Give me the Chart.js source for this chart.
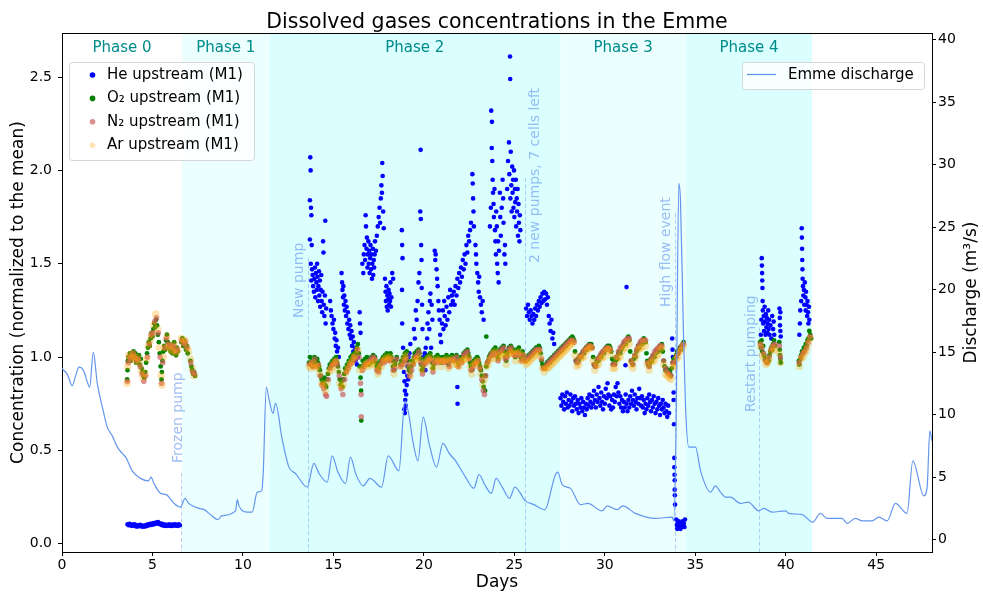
<!DOCTYPE html>
<html>
<head>
<meta charset="utf-8">
<script src="https://cdn.jsdelivr.net/npm/chart.js@4.4.0/dist/chart.umd.min.js"></script>
<style>
  html, body { margin: 0; padding: 0; background: #fff; }
  canvas { display: block; }
</style>
</head>
<body>
<canvas id="gasChart" width="983" height="594"></canvas>
<script>
// ---- data (days, value) ----
const heUpstream = [
  [3.62,0.104],[3.68,0.099],[3.73,0.107],[3.78,0.101],[3.84,0.096],[3.89,0.103],[3.95,0.098],[4.0,0.105],[4.05,0.094],[4.1,0.1],
  [4.16,0.092],[4.21,0.099],[4.27,0.095],[4.32,0.102],[4.38,0.093],[4.43,0.098],[4.49,0.091],[4.54,0.097],[4.6,0.093],[4.65,0.1],
  [4.71,0.096],[4.76,0.104],[4.82,0.099],[4.87,0.107],[4.93,0.101],[4.98,0.109],[5.04,0.103],[5.09,0.111],[5.15,0.106],[5.2,0.114],
  [5.26,0.108],[5.31,0.117],[5.36,0.11],[5.42,0.104],[5.47,0.109],[5.53,0.099],[5.58,0.106],[5.64,0.097],[5.69,0.103],[5.75,0.095],
  [5.8,0.101],[5.86,0.097],[5.91,0.104],[5.97,0.096],[6.02,0.102],[6.08,0.095],[6.13,0.103],[6.19,0.098],[6.24,0.105],[6.3,0.097],
  [6.35,0.102],[6.41,0.096],[6.46,0.104],[6.51,0.099],
  [13.72,2.07],[13.74,2.0],[13.7,1.84],[13.76,1.8],[13.78,1.76],[13.7,1.63],[13.8,1.6],[13.75,1.5],[13.82,1.47],[13.85,1.44],
  [13.78,1.41],[13.88,1.38],[13.92,1.35],[13.95,1.42],[13.98,1.48],[14.0,1.32],
  [14.03,1.45],[14.06,1.4],[14.08,1.36],[14.1,1.5],[14.12,1.43],[14.15,1.3],[14.17,1.38],[14.2,1.46],[14.22,1.33],[14.25,1.41],
  [14.27,1.27],[14.3,1.36],[14.33,1.44],[14.35,1.3],[14.38,1.24],[14.4,1.35],[14.43,1.62],[14.45,1.56],[14.47,1.28],[14.5,1.22],
  [14.53,1.33],[14.55,1.73],[14.57,1.18],[14.6,1.26],
  [14.82,1.3],[14.86,1.25],[14.9,1.22],[14.95,1.18],[15.0,1.15],[15.03,1.2],[15.07,1.1],[15.1,1.13],[15.13,1.06],[15.17,1.09],
  [15.2,1.03],[15.25,1.05],[15.3,1.0],
  [15.45,1.45],[15.48,1.4],[15.5,1.36],[15.53,1.32],[15.55,1.38],[15.58,1.28],[15.6,1.33],[15.63,1.25],[15.67,1.3],[15.7,1.22],
  [15.73,1.27],[15.77,1.18],[15.8,1.24],[15.83,1.15],[15.87,1.2],[15.9,1.12],[15.93,1.17],[15.97,1.1],[16.0,1.14],[16.03,1.06],
  [16.07,1.11],[16.1,1.03],[16.13,1.08],[16.17,1.0],[16.2,1.05],[16.23,0.98],[16.27,1.02],[16.3,0.96],[16.35,1.0],
  [16.45,1.24],[16.47,1.18],[16.5,1.13],
  [16.6,1.5],[16.65,1.45],[16.68,1.55],[16.72,1.6],[16.75,1.52],[16.78,1.76],[16.8,1.7],[16.83,1.58],[16.85,1.64],[16.88,1.48],
  [16.9,1.55],[16.93,1.62],[16.95,1.5],[16.98,1.57],[17.0,1.45],[17.03,1.53],[17.05,1.6],[17.08,1.47],[17.1,1.55],[17.13,1.42],
  [17.15,1.5],[17.18,1.58],[17.2,1.44],[17.23,1.52],[17.25,1.48],[17.28,1.55],[17.3,1.62],[17.35,1.57],[17.4,1.65],
  [17.45,1.7],[17.5,1.75],[17.55,1.8],[17.58,1.72],[17.62,1.85],[17.65,1.92],[17.68,1.88],[17.7,2.04],[17.72,1.97],[17.75,1.78],[17.78,1.69],
  [17.85,1.42],[17.88,1.35],[17.9,1.3],[17.93,1.38],[17.95,1.27],[17.98,1.33],[18.0,1.25],[18.03,1.31],[18.05,1.36],[18.08,1.28],
  [18.1,1.34],[18.13,1.3],[18.15,1.4],[18.18,1.27],[18.2,1.32],[18.25,1.45],[18.3,1.42],
  [18.78,1.68],[18.8,1.6],[18.82,1.53],[18.79,1.36],[18.8,1.18],[18.85,1.05],[18.88,0.98],[18.9,0.92],[18.93,0.87],[18.95,0.82],
  [18.97,0.77],[19.0,0.74],[18.92,0.72],[18.95,0.7],[19.02,0.8],[19.05,0.85],[19.08,0.9],[19.1,0.95],[19.13,0.88],[19.15,1.0],
  [19.18,0.93],[19.2,1.02],[19.25,1.07],
  [19.45,1.15],[19.5,1.1],[19.55,1.25],[19.6,1.2],[19.65,1.3],[19.7,1.4],[19.75,1.45],[19.8,1.78],[19.82,2.11],[19.83,1.74],
  [19.85,1.6],[19.87,1.52],[19.88,1.37],[19.9,1.28],[19.92,1.15],[19.95,1.0],[19.9,0.93],[19.97,0.96],
  [20.0,0.97],[20.05,1.02],[20.08,0.93],[20.1,1.05],[20.15,0.98],[20.18,1.1],[20.2,1.18],[20.25,1.24],[20.3,1.15],[20.33,1.3],
  [20.36,1.34],[20.4,1.05],[20.43,1.28],[20.47,1.2],
  [20.6,1.57],[20.63,1.52],[20.65,1.55],[20.7,1.47],[20.73,1.42],[20.76,1.38],[20.8,1.3],[20.83,1.25],[20.87,1.2],[20.9,1.12],[20.95,1.08],
  [21.0,1.18],[21.05,1.25],[21.08,1.15],[21.12,1.3],[21.15,1.22],[21.2,1.17],[21.25,1.27],[21.3,1.2],[21.35,1.32],[21.4,1.24],
  [21.45,1.36],[21.5,1.28],[21.55,1.33],[21.85,0.84],[21.86,0.75],
  [21.6,1.3],[21.65,1.35],[21.7,1.28],[21.75,1.38],[21.8,1.33],[21.85,1.42],[21.9,1.37],[21.95,1.45],[22.0,1.4],[22.05,1.48],
  [22.1,1.43],[22.15,1.52],[22.2,1.47],[22.25,1.55],[22.3,1.5],[22.35,1.6],[22.4,1.56],[22.45,1.65],[22.5,1.62],[22.55,1.68],[22.6,1.72],
  [22.68,1.98],[22.7,1.93],[22.72,1.85],[22.74,1.78],[22.76,1.7],
  [22.85,1.6],[22.88,1.55],[22.9,1.5],[22.95,1.45],[23.0,1.4],[23.03,1.35],[23.06,1.43],[23.1,1.32],[23.15,1.28],[23.2,1.24],[23.25,1.3],[23.3,1.2],
  [23.65,1.7],[23.7,1.8],[23.72,2.32],[23.76,2.26],[23.75,2.12],[23.78,2.05],[23.8,1.95],[23.82,1.88],[23.85,1.82],[23.87,1.75],
  [23.9,1.9],[23.93,1.68],[23.95,1.62],[23.98,1.55],[24.0,1.78],[24.03,1.7],[24.05,1.5],[24.08,1.45],[24.1,1.62],[24.13,1.4],
  [24.15,1.57],[24.2,1.88],[24.22,1.75],[24.25,1.65],[24.3,1.8],[24.35,1.95],[24.38,1.85],[24.4,1.72],[24.45,1.55],[24.48,1.6],[24.5,1.5],
  [24.6,1.9],[24.65,2.05],[24.7,2.15],[24.72,1.98],[24.76,2.61],[24.77,2.49],[24.78,1.85],[24.8,2.1],[24.83,1.92],[24.85,1.78],
  [24.88,2.02],[24.9,1.88],[24.93,1.95],[24.95,1.8],[24.98,2.0],[25.0,1.75],[25.03,1.9],[25.05,1.83],[25.08,1.95],[25.1,1.7],
  [25.13,1.85],[25.15,1.78],[25.18,1.9],[25.2,1.65],[25.23,1.82],[25.25,1.72],[25.28,1.62],[25.3,1.76],[25.33,1.68],
  [25.65,1.26],[25.7,1.22],[25.75,1.28],[25.8,1.24],[25.85,1.2],[25.9,1.25],[25.95,1.22],[26.0,1.18],[26.05,1.23],[26.1,1.2],
  [26.15,1.26],[26.2,1.22],[26.25,1.28],[26.3,1.25],[26.35,1.3],[26.4,1.27],[26.45,1.32],[26.5,1.29],[26.55,1.34],[26.6,1.3],
  [26.65,1.35],[26.7,1.31],[26.75,1.34],[26.8,1.28],[26.85,1.32],[26.9,1.22],[26.95,1.18],[27.0,1.14],[27.05,1.2],[27.1,1.1],
  [27.15,1.13],[27.2,1.07],
  [27.55,0.78],[27.6,0.74],[27.65,0.8],[27.7,0.76],[27.75,0.72],[27.8,0.79],[27.85,0.75],[27.9,0.81],[27.95,0.73],[28.0,0.77],
  [28.05,0.74],[28.1,0.8],[28.15,0.76],[28.2,0.71],[28.25,0.78],[28.3,0.74],[28.35,0.79],[28.4,0.75],[28.45,0.72],[28.5,0.77],
  [28.55,0.7],[28.6,0.75],[28.65,0.73],[28.7,0.78],[28.75,0.71],[28.8,0.76],[28.85,0.73],[28.9,0.69],[28.95,0.75],[29.0,0.72],
  [29.05,0.78],[29.1,0.74],[29.15,0.8],[29.2,0.76],[29.25,0.73],[29.3,0.79],[29.35,0.75],[29.4,0.82],[29.45,0.77],[29.5,0.73],
  [29.55,0.8],[29.6,0.76],[29.65,0.84],[29.7,0.78],[29.75,0.74],[29.8,0.81],[29.85,0.76],[29.9,0.72],[29.95,0.79],[30.0,0.75],
  [30.05,0.83],[30.1,0.78],[30.15,0.86],[30.2,0.8],[30.25,0.74],[30.3,0.79],[30.35,0.72],[30.4,0.77],[30.45,0.73],[30.5,0.8],
  [30.55,0.76],[30.6,0.84],[30.65,0.79],[30.7,0.86],[30.75,0.81],[30.8,0.75],[30.85,0.79],[30.9,0.73],[30.95,0.77],[31.0,0.71],
  [31.05,0.76],[31.1,0.73],[31.15,0.8],[31.2,0.75],[31.25,0.71],[31.3,0.77],[31.35,0.73],[31.4,0.79],[31.45,0.75],[31.5,0.82],
  [31.55,0.77],[31.6,0.74],[31.65,0.8],[31.7,0.76],[31.75,0.72],[31.8,0.78],[31.85,0.75],[31.9,0.83],[31.95,0.78],[32.0,0.74],
  [32.05,0.79],[32.1,0.73],[32.15,0.77],[32.2,0.7],[32.25,0.75],[32.3,0.72],[32.35,0.78],[32.4,0.74],[32.45,0.8],[32.5,0.76],
  [32.55,0.71],[32.6,0.77],[32.65,0.73],[32.7,0.79],[32.75,0.75],[32.8,0.7],[32.85,0.76],[32.9,0.72],[32.95,0.78],[33.0,0.74],
  [33.05,0.69],[33.1,0.75],[33.15,0.72],[33.2,0.77],[33.25,0.73],[33.3,0.7],[33.35,0.75],[33.4,0.71],[33.45,0.68],[33.5,0.74],[33.55,0.7],
  [31.14,0.956],[31.2,1.375],
  [33.72,1.1],[33.74,1.04],[33.76,1.0],[33.8,0.81],[33.8,0.77],[33.82,0.64],[33.84,0.46],[33.84,0.41],[33.85,0.37],[33.86,0.34],
  [33.86,0.29],[33.87,0.26],[33.88,0.21],
  [33.95,0.13],[33.98,0.1],[34.0,0.08],[34.03,0.11],[34.06,0.09],[34.09,0.12],[34.12,0.09],[34.15,0.1],[34.18,0.08],[34.21,0.11],
  [34.24,0.1],[34.27,0.09],[34.3,0.12],[34.33,0.1],[34.36,0.11],[34.4,0.09],[34.43,0.13],
  [38.62,1.12],[38.65,1.2],[38.67,1.53],[38.68,1.49],[38.69,1.45],[38.7,1.41],[38.71,1.37],[38.72,1.3],[38.73,1.25],[38.75,1.18],
  [38.78,1.22],[38.8,1.14],[38.83,1.27],[38.85,1.19],[38.88,1.12],[38.9,1.23],[38.93,1.16],[38.95,1.21],[38.98,1.13],[39.0,1.18],
  [39.03,1.25],[39.05,1.15],[39.08,1.2],[39.1,1.12],[39.15,1.17],[39.2,1.1],[39.25,1.22],[39.3,1.15],[39.33,1.19],[39.36,1.12],
  [39.65,1.26],[39.67,1.21],[39.68,1.17],[39.7,1.14],[39.72,1.11],[39.7,1.24],
  [40.75,1.12],[40.78,1.18],[40.8,1.25],[40.85,1.3],[40.88,1.69],[40.89,1.64],[40.9,1.58],[40.91,1.52],[40.92,1.47],[40.93,1.42],
  [40.95,1.38],[40.97,1.33],[41.0,1.36],[41.02,1.28],[41.05,1.4],[41.08,1.32],[41.1,1.25],[41.12,1.35],[41.15,1.28],[41.18,1.22],
  [41.2,1.3],[41.23,1.24],[41.25,1.18],[41.28,1.27],[41.3,1.2]
];

const o2Upstream = [
  [3.6,0.88],[3.62,0.93],[3.64,0.98],[3.67,1.0],[3.7,0.99],[3.75,1.02],[3.8,0.98],[3.85,1.01],[3.9,1.0],[3.95,1.03],
  [4.0,0.99],[4.05,1.02],[4.1,0.97],[4.15,1.0],[4.2,0.98],[4.25,1.01],[4.3,0.96],[4.35,0.99],[4.4,0.94],[4.45,0.92],
  [4.5,0.9],[4.55,0.89],[4.6,0.92],[4.65,0.97],[4.7,1.02],[4.75,1.05],[4.8,1.08],[4.85,1.06],[4.9,1.1],[4.95,1.13],
  [5.0,1.11],[5.05,1.15],[5.1,1.18],[5.15,1.16],[5.2,1.2],[5.25,1.17],[5.3,1.12],[5.35,1.08],[5.4,1.02],[5.45,0.95],
  [5.5,0.88],[5.52,0.92],[5.55,0.98],[5.6,1.03],[5.65,1.06],[5.7,1.04],[5.75,1.09],[5.8,1.12],[5.85,1.08],[5.9,1.05],
  [5.95,1.07],[6.0,1.03],[6.05,1.06],[6.1,1.02],[6.15,1.05],[6.2,1.08],[6.25,1.04],[6.3,1.01],[6.35,1.05],[6.4,1.03],
  [6.6,1.08],[6.65,1.1],[6.7,1.06],[6.75,1.09],[6.8,1.07],[6.85,1.04],[6.9,1.06],[6.95,1.02],[7.1,0.98],[7.15,0.95],
  [7.2,0.93],[7.25,0.91],[7.3,0.92],[7.35,0.9],
  [13.65,0.97],[13.7,1.0],[13.75,0.96],[13.8,0.98],[13.85,0.95],[13.9,0.97],[13.95,1.0],[14.0,0.98],[14.05,0.96],[14.1,0.99],
  [14.15,0.97],[14.2,0.95],[14.25,0.93],[14.3,0.9],[14.35,0.88],[14.4,0.86],[14.45,0.87],[14.5,0.89],[14.55,0.85],[14.6,0.84],
  [14.65,0.88],[14.7,0.91],[14.75,0.94],[14.8,0.96],[14.85,0.95],[14.9,0.97],[14.95,0.98],[15.0,0.97],[15.05,0.99],[15.1,0.98],
  [15.15,1.0],[15.2,0.97],[15.25,0.95],[15.3,0.92],[15.35,0.88],[15.4,0.85],[15.45,0.87],[15.5,0.84],[15.55,0.88],[15.6,0.91],
  [15.65,0.94],[15.7,0.93],[15.75,0.96],[15.8,0.95],[15.85,0.98],[15.9,0.97],[15.95,1.0],[16.0,0.98],[16.05,1.01],[16.1,0.99],
  [16.15,1.02],[16.2,1.0],[16.25,1.03],[16.3,1.05],[16.35,1.07],[16.4,1.02],[16.45,0.95],[16.5,0.89],[16.53,0.82],[16.54,0.66],
  [16.58,0.95],[16.62,0.98],[16.7,0.96],[16.75,0.99],[16.8,0.97],[16.85,1.0],[16.9,0.98],[16.95,0.96],[17.0,0.99],[17.05,0.97],
  [17.1,1.0],[17.15,0.98],[17.2,1.01],[17.25,0.99],[17.3,1.0],[17.35,0.97],[17.4,0.95],[17.45,0.93],[17.5,0.94],[17.55,0.96],
  [17.6,0.98],[17.65,0.97],[17.7,0.99],[17.75,1.0],[17.8,0.98],[17.85,1.01],[17.9,0.99],[17.95,1.02],[18.0,1.0],[18.05,1.01],
  [18.1,0.99],[18.15,1.02],[18.2,1.0],[18.25,0.98],[18.3,0.95],[18.35,0.93],[18.4,0.96],[18.45,0.98],[18.5,1.0],
  [18.7,0.96],[18.75,0.98],[18.8,0.97],[18.85,1.0],[18.9,0.99],[18.95,1.02],[19.0,1.0],[19.05,1.03],[19.1,0.98],[19.15,0.95],
  [19.2,0.93],[19.25,0.92],[19.3,0.95],[19.35,0.98],[19.4,0.97],[19.45,1.0],[19.5,1.02],[19.55,1.0],[19.6,1.03],[19.65,1.01],
  [19.7,1.04],[19.75,1.02],[19.8,0.99],[19.85,0.96],[19.9,0.93],[19.95,0.95],[20.0,0.97],[20.05,0.99],[20.1,0.98],[20.15,1.0],
  [20.2,0.99],[20.25,1.01],[20.3,1.0],[20.35,1.02],[20.4,1.0],[20.45,0.97],[20.5,0.94],[20.55,0.96],[20.6,0.98],[20.65,1.0],
  [20.7,0.99],[20.75,1.01],[20.8,0.98],[20.85,1.0],[20.9,0.99],[20.95,0.97],[21.0,0.99],[21.05,1.0],[21.1,0.98],[21.15,1.0],
  [21.2,0.99],[21.25,1.01],[21.3,0.98],[21.35,0.96],[21.4,0.98],[21.45,1.0],[21.5,0.99],[21.55,1.01],[21.6,1.0],[21.65,0.98],
  [21.7,1.0],[21.75,0.99],[21.8,1.01],[21.85,0.98],[21.9,0.96],[21.95,0.97],[22.0,0.99],[22.05,1.0],[22.1,0.98],[22.15,1.0],
  [22.2,1.02],[22.25,1.01],[22.3,1.03],[22.35,1.01],[22.4,1.04],[22.45,1.02],[22.5,1.0],[22.55,0.97],[22.6,0.95],[22.65,0.93],
  [22.7,0.96],[22.75,0.98],[22.8,0.97],[22.85,0.99],[22.9,0.98],[22.95,1.0],[23.0,0.99],[23.05,0.97],[23.1,0.95],[23.15,0.93],
  [23.2,0.9],[23.25,0.87],[23.3,0.84],[23.38,0.82],[23.45,1.11],[23.4,0.9],[23.45,0.95],[23.5,0.97],[23.55,0.98],[23.6,1.0],
  [23.65,1.01],[23.7,1.02],[23.75,1.01],[23.8,1.03],[23.85,1.04],[23.9,1.02],[23.95,1.05],[24.0,1.03],[24.05,1.01],[24.1,0.99],
  [24.15,1.02],[24.2,1.04],[24.25,1.03],[24.3,1.05],[24.35,1.04],[24.4,1.06],[24.45,1.03],[24.5,1.0],[24.55,0.98],[24.6,1.01],
  [24.65,1.03],[24.7,1.05],[24.75,1.04],[24.8,1.06],[24.85,1.05],[24.9,1.03],[24.95,1.04],[25.0,1.02],[25.05,1.0],[25.1,1.02],
  [25.15,1.04],[25.2,1.03],[25.25,1.05],[25.3,1.02],[25.35,1.0],[25.4,0.99],
  [25.45,1.03],[25.5,1.01],[25.55,1.0],[25.6,0.99],[25.65,0.98],[25.7,1.0],[25.75,0.99],[25.8,1.01],[25.85,1.0],[25.9,1.02],
  [25.95,1.01],[26.0,1.03],[26.05,1.02],[26.1,1.04],[26.15,1.03],[26.2,1.05],[26.25,1.04],[26.3,1.05],[26.35,1.06],[26.4,1.05],
  [26.45,1.02],[26.5,0.98],[26.55,0.96],[26.6,0.95],[26.65,0.94],[26.7,0.95],[26.75,0.96],[26.8,0.97],[26.85,0.96],[26.9,0.98],
  [26.95,0.97],[27.0,0.99],[27.05,0.98],[27.1,1.0],[27.15,0.99],[27.2,1.01],[27.25,1.0],[27.3,1.02],[27.35,1.01],[27.4,1.03],
  [27.45,1.02],[27.5,1.04],[27.55,1.03],[27.6,1.05],[27.65,1.04],[27.7,1.06],[27.75,1.05],[27.8,1.07],[27.85,1.06],[27.9,1.08],
  [27.95,1.07],[28.0,1.09],[28.05,1.08],[28.1,1.1],[28.15,1.09],[28.2,1.11],[28.25,1.1],[28.3,1.09],[28.35,1.03],[28.4,0.98],
  [28.45,0.97],[28.5,0.99],[28.55,0.98],[28.6,1.0],[28.65,1.01],[28.7,1.0],[28.75,1.02],[28.8,1.03],[28.85,1.02],[28.9,1.04],
  [28.95,1.05],[29.0,1.04],[29.05,1.06],[29.1,1.05],[29.15,1.07],[29.2,1.06],[29.25,1.07],[29.3,1.05],[29.35,1.0],[29.4,0.96],
  [29.45,0.95],[29.5,0.96],[29.55,0.98],[29.6,0.99],[29.65,0.98],[29.7,1.0],[29.75,1.01],[29.8,1.0],[29.85,1.02],[29.9,1.03],
  [29.95,1.02],[30.0,1.04],[30.05,1.05],[30.1,1.04],[30.15,1.06],[30.2,1.05],[30.25,1.06],[30.3,1.05],[30.35,1.03],[30.4,0.99],
  [30.45,0.96],[30.5,0.97],[30.55,0.96],[30.6,0.98],[30.65,1.0],[30.7,0.99],[30.75,1.02],[30.8,1.03],[30.85,1.02],[30.9,1.04],
  [30.95,1.05],[31.0,1.06],[31.05,1.07],[31.1,1.08],[31.15,1.07],[31.2,1.09],[31.25,1.1],[31.3,1.11],[31.35,1.09],[31.4,1.03],
  [31.45,0.98],[31.5,0.97],[31.55,0.96],[31.6,0.99],[31.65,1.01],[31.7,1.0],[31.75,1.03],[31.8,1.04],[31.85,1.06],[31.9,1.05],
  [31.95,1.07],[32.0,1.08],[32.05,1.07],[32.1,1.09],[32.15,1.1],[32.2,1.09],[32.25,1.08],[32.3,1.02],[32.35,0.98],[32.4,0.96],
  [32.45,0.95],[32.5,0.97],[32.55,0.99],[32.6,0.98],[32.65,1.0],[32.7,1.01],[32.75,1.0],[32.8,1.02],[32.85,1.03],[32.9,1.04],
  [32.95,1.03],[33.0,1.05],[33.05,1.06],[33.1,1.05],[33.15,1.07],[33.2,1.03],[33.25,0.98],[33.3,0.95],[33.35,0.93],[33.4,0.94],
  [33.45,0.92],[33.5,0.93],[33.55,0.91],[33.6,0.92],[33.65,0.9],[33.7,0.94],[33.75,0.97],[33.8,0.99],[33.85,0.97],[33.9,1.0],
  [33.95,1.01],[34.0,1.03],[34.05,1.02],[34.1,1.04],[34.15,1.05],[34.2,1.04],[34.25,1.06],[34.3,1.07],[34.35,1.08],
  [38.58,1.08],[38.62,1.05],[38.66,1.09],[38.7,1.03],[38.75,1.06],[38.8,1.01],[38.85,0.99],[38.9,0.98],[38.95,0.97],[39.0,0.99],
  [39.05,0.98],[39.1,1.01],[39.15,1.03],[39.2,1.05],[39.25,1.04],[39.3,1.07],[39.35,1.09],[39.4,1.06],
  [39.64,1.08],[39.66,1.04],[39.68,1.01],[39.7,0.99],[39.72,0.97],
  [40.72,0.98],[40.75,0.96],[40.8,0.99],[40.85,1.01],[40.9,1.03],[40.95,1.02],[41.0,1.05],[41.05,1.04],[41.1,1.07],[41.15,1.06],
  [41.2,1.09],[41.25,1.1],[41.3,1.14],[41.35,1.12],[41.4,1.1]
];

const n2Upstream = [
  [3.61,0.87],[3.66,0.97],[3.72,1.0],[3.82,0.99],[3.92,1.02],[4.02,1.0],[4.12,0.98],[4.22,0.99],[4.32,0.95],[4.42,0.91],
  [4.52,0.87],[4.62,0.9],[4.72,1.0],[4.82,1.07],[4.92,1.12],[5.02,1.13],[5.12,1.19],[5.22,1.21],[5.32,1.13],[5.42,1.0],
  [5.5,0.86],[5.57,0.97],[5.67,1.05],[5.77,1.1],[5.87,1.07],[5.97,1.06],[6.07,1.05],[6.17,1.06],[6.27,1.03],[6.37,1.04],
  [6.62,1.09],[6.72,1.07],[6.82,1.08],[6.92,1.05],[7.12,0.97],[7.22,0.92],[7.32,0.91],
  [13.67,0.96],[13.77,0.97],[13.87,0.95],[13.97,0.99],[14.07,0.95],[14.17,0.96],[14.27,0.9],[14.37,0.85],[14.47,0.83],[14.57,0.8],
  [14.62,0.79],[14.72,0.88],[14.82,0.94],[14.92,0.96],[15.02,0.96],[15.12,0.98],[15.22,0.96],[15.32,0.9],[15.42,0.83],[15.52,0.8],
  [15.62,0.88],[15.72,0.92],[15.82,0.94],[15.92,0.96],[16.02,0.97],[16.12,1.0],[16.22,0.99],[16.32,1.04],[16.42,1.0],[16.5,0.86],
  [16.53,0.8],[16.54,0.68],[16.6,0.93],[16.7,0.95],[16.8,0.96],[16.9,0.97],[17.0,0.98],[17.1,0.99],[17.2,1.0],[17.3,0.99],
  [17.4,0.93],[17.5,0.92],[17.6,0.96],[17.7,0.98],[17.8,0.97],[17.9,0.98],[18.0,0.99],[18.1,0.98],[18.2,0.99],[18.3,0.93],
  [18.4,0.94],[18.5,0.99],[18.72,0.95],[18.82,0.96],[18.92,0.98],[19.02,0.99],[19.12,0.96],[19.22,0.9],[19.32,0.93],[19.42,0.96],
  [19.52,1.0],[19.62,1.01],[19.72,1.03],[19.82,0.97],[19.92,0.91],[20.02,0.96],[20.12,0.97],[20.22,0.98],[20.32,0.99],[20.42,0.98],
  [20.5,0.92],[20.6,0.97],[20.7,0.98],[20.8,0.97],[20.9,0.98],[21.0,0.98],[21.1,0.97],[21.2,0.98],[21.3,0.97],[21.4,0.95],
  [21.5,0.98],[21.6,0.99],[21.7,0.98],[21.8,1.0],[21.9,0.95],[22.0,0.98],[22.1,0.97],[22.2,1.01],[22.3,1.02],[22.4,1.03],
  [22.5,0.99],[22.6,0.93],[22.7,0.94],[22.8,0.96],[22.9,0.97],[23.0,0.98],[23.1,0.94],[23.2,0.88],[23.28,0.82],[23.35,0.8],
  [23.42,0.9],[23.5,0.97],[23.6,0.99],[23.7,1.01],[23.8,1.02],[23.9,1.01],[24.0,1.02],[24.1,0.98],[24.2,1.03],[24.3,1.04],
  [24.4,1.05],[24.5,0.99],[24.6,1.0],[24.7,1.04],[24.8,1.05],[24.9,1.02],[25.0,1.01],[25.1,1.01],[25.2,1.02],[25.3,1.01],[25.4,0.98],
  [25.5,1.01],[25.6,0.98],[25.7,0.99],[25.8,1.0],[25.9,1.01],[26.0,1.02],[26.1,1.03],[26.2,1.04],[26.3,1.04],[26.4,1.04],
  [26.5,0.99],[26.6,0.94],[26.7,0.94],[26.8,0.96],[26.9,0.97],[27.0,0.98],[27.1,0.99],[27.2,1.0],[27.3,1.01],[27.4,1.02],
  [27.5,1.03],[27.6,1.04],[27.7,1.05],[27.8,1.06],[27.9,1.07],[28.0,1.08],[28.1,1.09],[28.2,1.09],[28.3,1.08],[28.4,0.98],
  [28.5,0.97],[28.6,1.0],[28.7,1.01],[28.8,1.03],[28.9,1.04],[29.0,1.05],[29.1,1.06],[29.2,1.06],[29.3,1.05],[29.4,0.96],
  [29.5,0.95],[29.6,0.99],[29.7,1.0],[29.8,1.02],[29.9,1.03],[30.0,1.04],[30.1,1.05],[30.2,1.05],[30.3,1.04],[30.45,0.96],
  [30.55,0.96],[30.65,1.0],[30.75,1.03],[30.85,1.05],[30.95,1.06],[31.05,1.08],[31.15,1.09],[31.25,1.1],[31.35,1.1],[31.45,0.98],
  [31.55,0.96],[31.65,1.01],[31.75,1.04],[31.85,1.06],[31.95,1.08],[32.05,1.09],[32.15,1.09],[32.25,1.09],[32.35,0.97],[32.45,0.95],
  [32.55,0.99],[32.65,1.01],[32.75,1.03],[32.85,1.04],[32.95,1.05],[33.05,1.06],[33.15,1.06],[33.25,0.98],[33.35,0.94],[33.45,0.92],
  [33.55,0.91],[33.65,0.9],[33.75,0.97],[33.85,0.97],[33.95,1.0],[34.05,1.02],[34.15,1.04],[34.25,1.06],[34.35,1.07],
  [38.6,1.07],[38.68,1.05],[38.78,1.02],[38.88,0.98],[38.98,0.97],[39.08,1.0],[39.18,1.04],[39.28,1.06],[39.38,1.07],
  [39.65,1.06],[39.7,1.0],[40.74,0.97],[40.84,1.0],[40.94,1.02],[41.04,1.03],[41.14,1.05],[41.24,1.08],[41.34,1.11]
];

const arUpstream = [
  [3.6,0.86],[3.63,0.95],[3.7,1.01],[3.78,0.99],[3.88,1.02],[3.98,1.0],[4.08,0.98],[4.18,1.0],[4.28,0.97],[4.38,0.93],
  [4.48,0.89],[4.58,0.91],[4.68,0.99],[4.78,1.06],[4.88,1.09],[4.98,1.12],[5.08,1.17],[5.18,1.23],[5.28,1.15],[5.38,1.05],
  [5.48,0.9],[5.53,0.85],[5.6,1.0],[5.7,1.05],[5.8,1.11],[5.9,1.06],[6.0,1.04],[6.1,1.03],[6.2,1.07],[6.3,1.02],[6.4,1.04],
  [6.6,1.1],[6.7,1.08],[6.8,1.09],[6.9,1.05],[7.0,1.03],[7.1,0.99],[7.2,0.94],[7.3,0.9],
  [13.65,0.95],[13.75,0.94],[13.85,0.97],[13.95,0.96],[14.05,0.94],[14.15,0.95],[14.25,0.91],[14.35,0.86],[14.45,0.85],[14.55,0.82],
  [14.65,0.86],[14.75,0.92],[14.85,0.93],[14.95,0.95],[15.05,0.97],[15.15,0.98],[15.25,0.93],[15.35,0.86],[15.45,0.84],[15.55,0.85],
  [15.65,0.91],[15.75,0.93],[15.85,0.95],[15.95,0.97],[16.05,0.98],[16.15,1.0],[16.25,1.01],[16.35,1.04],[16.45,0.93],[16.65,0.94],
  [16.75,0.96],[16.85,0.97],[16.95,0.95],[17.05,0.96],[17.15,0.97],[17.25,0.98],[17.35,0.95],[17.45,0.91],[17.55,0.94],[17.65,0.95],
  [17.75,0.98],[17.85,0.99],[17.95,1.0],[18.05,0.99],[18.15,1.0],[18.25,0.96],[18.35,0.91],[18.45,0.96],[18.75,0.95],[18.85,0.98],
  [18.95,1.0],[19.05,1.01],[19.15,0.93],[19.25,0.9],[19.35,0.96],[19.45,0.98],[19.55,0.99],[19.65,0.99],[19.75,1.0],[19.85,0.94],
  [19.95,0.93],[20.05,0.97],[20.15,0.98],[20.25,0.99],[20.35,1.0],[20.45,0.95],[20.55,0.94],[20.65,0.98],[20.75,0.99],[20.85,0.98],
  [20.95,0.95],[21.05,0.98],[21.15,0.98],[21.25,0.99],[21.35,0.94],[21.45,0.98],[21.55,0.99],[21.65,0.96],[21.75,0.97],[21.85,0.96],
  [21.95,0.95],[22.05,0.98],[22.15,0.98],[22.25,0.99],[22.35,0.99],[22.45,1.0],[22.55,0.95],[22.65,0.91],[22.75,0.96],[22.85,0.97],
  [22.95,0.98],[23.05,0.95],[23.15,0.91],[23.25,0.85],[23.35,0.88],[23.45,0.95],[23.55,0.96],[23.65,0.99],[23.75,0.99],[23.85,1.02],
  [23.95,1.03],[24.05,0.99],[24.15,1.0],[24.25,1.01],[24.35,1.02],[24.45,1.01],[24.55,0.96],[24.65,1.01],[24.75,1.02],[24.85,1.03],
  [24.95,1.02],[25.05,0.98],[25.15,1.02],[25.25,1.03],[25.35,0.98],[25.45,1.01],[25.55,0.98],[25.65,0.96],[25.75,0.97],[25.85,0.98],
  [25.95,0.99],[26.05,1.0],[26.15,1.01],[26.25,1.02],[26.35,1.03],[26.45,1.0],[26.55,0.94],[26.65,0.92],[26.75,0.94],[26.85,0.94],
  [26.95,0.95],[27.05,0.96],[27.15,0.97],[27.25,0.98],[27.35,0.99],[27.45,1.0],[27.55,1.01],[27.65,1.02],[27.75,1.03],[27.85,1.04],
  [27.95,1.05],[28.05,1.06],[28.15,1.07],[28.25,1.08],[28.35,1.01],[28.45,0.95],[28.55,0.96],[28.65,0.99],[28.75,1.0],[28.85,1.0],
  [28.95,1.03],[29.05,1.04],[29.15,1.05],[29.25,1.05],[29.35,0.98],[29.45,0.93],[29.55,0.96],[29.65,0.96],[29.75,0.99],[29.85,1.0],
  [29.95,1.0],[30.05,1.03],[30.15,1.04],[30.25,1.04],[30.35,1.01],[30.45,0.94],[30.55,0.94],[30.65,0.98],[30.75,1.0],[30.85,1.0],
  [30.95,1.03],[31.05,1.05],[31.15,1.05],[31.25,1.08],[31.35,1.07],[31.45,0.96],[31.55,0.94],[31.65,0.99],[31.75,1.01],[31.85,1.04],
  [31.95,1.05],[32.05,1.05],[32.15,1.08],[32.25,1.06],[32.35,0.96],[32.45,0.93],[32.55,0.97],[32.65,0.98],[32.75,0.98],[32.85,1.01],
  [32.95,1.01],[33.05,1.04],[33.15,1.05],[33.25,0.96],[33.35,0.91],[33.45,0.9],[33.55,0.89],[33.65,0.88],[33.75,0.95],[33.85,0.95],
  [33.95,0.99],[34.05,1.0],[34.15,1.03],[34.25,1.04],[34.35,1.06],
  [38.6,1.06],[38.7,1.01],[38.8,0.99],[38.9,0.96],[39.0,0.97],[39.1,0.99],[39.2,1.03],[39.3,1.05],[39.4,1.04],[39.65,1.02],[39.7,0.97],
  [40.75,0.95],[40.85,0.99],[40.95,1.0],[41.05,1.02],[41.15,1.04],[41.25,1.07],[41.35,1.1]
];

// Emme discharge, m3/s
const emmeDischarge = [
  [0.0,13.7],[0.3,13.2],[0.57,12.3],[0.75,13.1],[0.94,13.8],[1.2,13.5],[1.4,12.6],[1.53,12.2],[1.73,15.0],[1.95,12.5],
  [2.23,10.6],[2.5,9.0],[2.78,8.3],[3.06,7.4],[3.33,6.9],[3.52,6.6],[3.88,5.5],[4.34,4.9],[4.77,4.7],[4.92,5.0],
  [5.08,4.5],[5.45,3.7],[5.76,3.6],[6.19,2.9],[6.55,2.6],[6.8,3.3],[7.0,2.9],[7.57,2.5],[7.85,2.4],[8.21,2.0],
  [8.62,1.6],[8.82,1.9],[9.59,2.3],[9.69,3.2],[9.78,2.7],[10.24,2.2],[10.51,2.2],[10.79,3.8],[11.03,3.9],[11.12,5.3],
  [11.29,12.2],[11.43,11.3],[11.66,10.1],[11.8,10.9],[12.17,8.0],[12.54,5.8],[12.9,5.3],[13.55,4.2],[13.92,6.1],[14.2,5.3],
  [14.66,4.6],[14.93,6.7],[15.25,5.4],[15.67,4.5],[15.94,6.6],[16.25,5.2],[16.65,4.3],[17.02,4.9],[17.66,4.2],[18.03,6.7],
  [18.62,5.5],[18.95,11.1],[19.13,10.3],[19.4,7.8],[19.67,6.3],[19.96,9.8],[20.3,7.6],[20.7,5.8],[21.05,7.7],[21.4,6.9],
  [21.75,6.3],[22.3,5.0],[22.76,4.1],[23.04,5.2],[23.4,4.3],[23.73,3.7],[23.99,4.9],[24.33,4.2],[24.73,3.3],[25.03,4.2],
  [25.61,3.1],[26.08,2.8],[26.69,2.4],[27.09,4.3],[27.24,5.1],[27.4,5.4],[27.64,4.4],[28.1,4.1],[28.65,2.8],[29.06,2.9],
  [29.85,2.3],[30.13,2.7],[30.68,2.4],[30.99,2.7],[31.69,2.1],[32.8,1.7],[33.72,1.8],[33.8,1.5],[33.93,8.2],[34.09,28.5],
  [34.18,27.1],[34.33,17.5],[34.46,10.6],[34.64,7.4],[35.01,7.4],[35.29,5.5],[35.84,3.8],[36.11,4.3],[36.39,3.8],[36.67,3.4],
  [36.94,3.4],[37.49,2.9],[37.92,3.0],[38.51,2.3],[38.78,2.5],[39.24,2.2],[39.98,2.3],[40.17,2.1],[40.9,2.0],[41.49,1.4],
  [41.91,2.1],[42.28,1.7],[43.11,1.7],[43.39,1.3],[43.85,1.7],[44.22,1.5],[44.77,1.5],[45.14,1.8],[45.6,1.5],[46.06,2.9],
  [46.7,2.1],[47.02,6.3],[47.63,3.5],[47.81,4.2],[47.96,8.7],[48.08,7.9]
];

const phaseNames = ['Phase 0', 'Phase 1', 'Phase 2', 'Phase 3', 'Phase 4'];
const phaseStarts = [0, 6.63, 11.47, 27.53, 34.49];
const phaseEnds = [6.63, 11.47, 27.53, 34.49, 41.44];

const eventNames = ['Frozen pump', 'New pump', '2 new pumps, 7 cells left', 'High flow event', 'Restart pumping'];
const eventDays = [6.55, 13.6, 25.56, 33.9, 38.54];

// ---- layout / style ----
const FONT = "'DejaVu Sans', sans-serif";
const phaseShade = [null, '#ebffff', '#dbffff', '#ebffff', '#dbffff'];
const eventLineTop = [0.38, 1.53, 1.96, 1.77, 1.16];   // in concentration units
const eventTextBottom = [463, 318, 263, 307, 412];     // px
const eventTextDx = [-2.3, -8.7, 10.7, -9, -8];        // px from the line
const heColor = '#0000ff';
const o2Color = '#008000';
const n2Color = 'rgba(205,92,92,0.7)';
const arColor = 'rgba(255,165,0,0.3)';
const qColor = '#6495ed';

const toXY = arr => arr.map(p => ({ x: p[0], y: p[1] }));

const overlay = {
  id: 'overlay',
  beforeDatasetsDraw(chart) {
    const { ctx, chartArea: a, scales: { x, y } } = chart;
    ctx.save();
    phaseStarts.forEach((s, i) => {
      if (!phaseShade[i]) return;
      const x0 = x.getPixelForValue(s), x1 = x.getPixelForValue(phaseEnds[i]);
      ctx.fillStyle = phaseShade[i];
      ctx.fillRect(x0, a.top, x1 - x0, a.bottom - a.top);
    });
    // event markers
    ctx.strokeStyle = 'rgba(100,149,237,0.45)';
    ctx.lineWidth = 1;
    ctx.setLineDash([4, 2.5]);
    eventDays.forEach((d, i) => {
      const px = Math.round(x.getPixelForValue(d)) + 0.5;
      ctx.beginPath();
      ctx.moveTo(px, y.getPixelForValue(eventLineTop[i]));
      ctx.lineTo(px, a.bottom);
      ctx.stroke();
    });
    ctx.setLineDash([]);
    ctx.fillStyle = 'rgba(100,149,237,0.62)';
    ctx.font = '14px ' + FONT;
    ctx.textAlign = 'left';
    ctx.textBaseline = 'middle';
    eventDays.forEach((d, i) => {
      const px = x.getPixelForValue(d) + eventTextDx[i];
      ctx.save();
      ctx.translate(px, eventTextBottom[i]);
      ctx.rotate(-Math.PI / 2);
      ctx.fillText(eventNames[i], 0, 0);
      ctx.restore();
    });
    ctx.restore();
  },
  afterDraw(chart) {
    const { ctx, chartArea: a, scales: { x } } = chart;
    ctx.save();
    // top spine
    ctx.strokeStyle = '#000';
    ctx.lineWidth = 1;
    ctx.beginPath();
    ctx.moveTo(a.left, a.top + 0.5);
    ctx.lineTo(a.right, a.top + 0.5);
    ctx.stroke();

    // phase labels
    ctx.fillStyle = '#008b8b';
    ctx.font = '15px ' + FONT;
    ctx.textAlign = 'center';
    ctx.textBaseline = 'middle';
    phaseNames.forEach((n, i) => {
      const cx = x.getPixelForValue((phaseStarts[i] + phaseEnds[i]) / 2);
      ctx.fillText(n, cx, 48);
    });

    // title and axis titles
    ctx.fillStyle = '#000';
    ctx.font = '20.5px ' + FONT;
    ctx.textBaseline = 'alphabetic';
    ctx.fillText('Dissolved gases concentrations in the Emme', (a.left + a.right) / 2, 28);
    ctx.font = '17px ' + FONT;
    ctx.textBaseline = 'middle';
    ctx.fillText('Days', (a.left + a.right) / 2, 583);
    ctx.save();
    ctx.translate(19, (a.top + a.bottom) / 2);
    ctx.rotate(-Math.PI / 2);
    ctx.fillText('Concentration (normalized to the mean)', 0, 0);
    ctx.restore();
    ctx.save();
    ctx.translate(972, (a.top + a.bottom) / 2);
    ctx.rotate(-Math.PI / 2);
    ctx.fillText('Discharge (m\u00B3/s)', 0, 0);
    ctx.restore();

    // legend for gases
    const box = (x0, y0, w, h) => {
      ctx.beginPath();
      ctx.roundRect(x0 + 0.5, y0 + 0.5, w, h, 3);
      ctx.fillStyle = 'rgba(255,255,255,0.8)';
      ctx.fill();
      ctx.strokeStyle = '#d6d6d6';
      ctx.lineWidth = 1;
      ctx.stroke();
    };
    box(69, 62, 185, 98);
    const items = [
      ['He upstream (M1)', heColor],
      ['O\u2082 upstream (M1)', o2Color],
      ['N\u2082 upstream (M1)', n2Color],
      ['Ar upstream (M1)', arColor]
    ];
    ctx.font = '15px ' + FONT;
    ctx.textAlign = 'left';
    items.forEach((it, i) => {
      const ry = 75 + i * 23.4;
      ctx.fillStyle = it[1];
      ctx.beginPath();
      ctx.arc(92.5, ry, 2.8, 0, Math.PI * 2);
      ctx.fill();
      ctx.fillStyle = '#000';
      ctx.fillText(it[0], 107, ry);
    });

    // legend for discharge
    box(742, 62, 182, 27);
    ctx.strokeStyle = qColor;
    ctx.lineWidth = 1.3;
    ctx.beginPath();
    ctx.moveTo(747, 74.5);
    ctx.lineTo(776, 74.5);
    ctx.stroke();
    ctx.fillStyle = '#000';
    ctx.fillText('Emme discharge', 788, 75);
    ctx.restore();
  }
};

Chart.defaults.font.family = FONT;
Chart.defaults.color = '#000';

const tickFont = { size: 14, family: FONT };

new Chart(document.getElementById('gasChart'), {
  type: 'scatter',
  data: {
    datasets: [
      {
        label: 'Emme discharge',
        data: toXY(emmeDischarge),
        yAxisID: 'y2',
        showLine: true,
        borderColor: qColor,
        borderWidth: 1.2,
        pointRadius: 0,
        cubicInterpolationMode: 'monotone',
        fill: false
      },
      { label: 'Ar upstream (M1)', data: toXY(arUpstream), yAxisID: 'y', backgroundColor: arColor, borderWidth: 0, pointRadius: 3.8 },
      { label: 'N2 upstream (M1)', data: toXY(n2Upstream), yAxisID: 'y', backgroundColor: n2Color, borderWidth: 0, pointRadius: 2.8 },
      { label: 'O2 upstream (M1)', data: toXY(o2Upstream), yAxisID: 'y', backgroundColor: o2Color, borderWidth: 0, pointRadius: 2.4 },
      { label: 'He upstream (M1)', data: toXY(heUpstream), yAxisID: 'y', backgroundColor: heColor, borderWidth: 0, pointRadius: 2.3 }
    ]
  },
  options: {
    responsive: false,
    animation: false,
    devicePixelRatio: 1,
    layout: { padding: { top: 33, left: 0, right: 0, bottom: 0 } },
    plugins: { legend: { display: false }, tooltip: { enabled: false } },
    scales: {
      x: {
        type: 'linear', min: 0, max: 48.08,
        ticks: { stepSize: 5, includeBounds: false, padding: 1, font: tickFont, color: '#000', maxRotation: 0 },
        grid: { drawOnChartArea: false, drawTicks: true, tickLength: 4, tickColor: '#000' },
        border: { color: '#000', width: 1 },
        afterFit(s) { s.height = 42; }
      },
      y: {
        position: 'left', min: -0.044, max: 2.736,
        ticks: { stepSize: 0.5, includeBounds: false, padding: 6, font: tickFont, color: '#000', callback: v => v.toFixed(1) },
        grid: { drawOnChartArea: false, drawTicks: true, tickLength: 4, tickColor: '#000' },
        border: { color: '#000', width: 1 },
        afterFit(s) { s.width = 62; }
      },
      y2: {
        position: 'right', min: -0.99, max: 40.53,
        ticks: { stepSize: 5, includeBounds: false, padding: 2, font: tickFont, color: '#000' },
        grid: { drawOnChartArea: false, drawTicks: true, tickLength: 4, tickColor: '#000' },
        border: { color: '#000', width: 1 },
        afterFit(s) { s.width = 51; }
      }
    }
  },
  plugins: [overlay]
});
</script>
</body>
</html>
